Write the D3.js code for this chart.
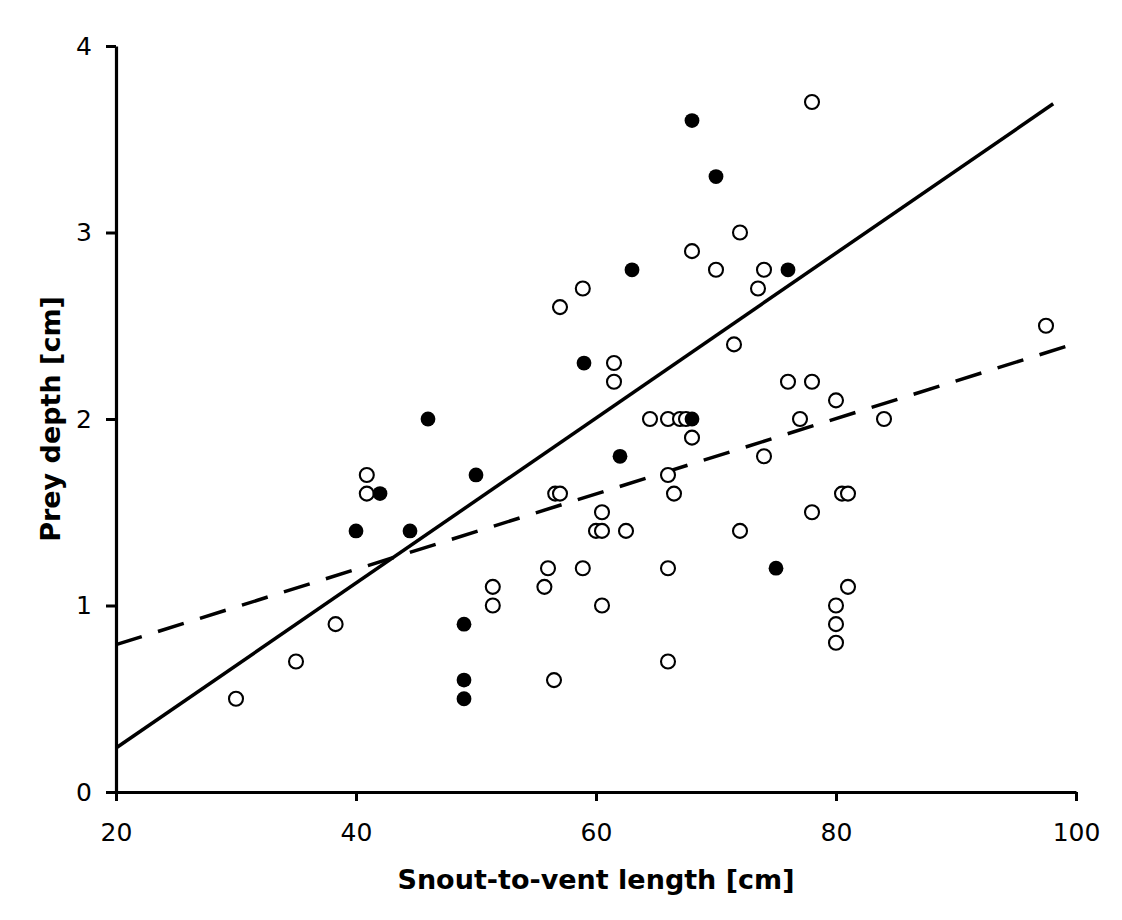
<!DOCTYPE html>
<html>
<head>
<meta charset="utf-8">
<script src="https://cdn.jsdelivr.net/npm/d3@7"></script>
<style>
  body { margin: 0; background: #fff; }
  svg text { font-family: "DejaVu Sans", Verdana, sans-serif; fill: #000; }
</style>
</head>
<body>
<svg id="chart" width="1122" height="920"></svg>
<script>
// open circles: snout-to-vent length (cm) and prey depth (cm)
const openSvl = [30, 35, 38.3, 40.9, 40.9, 51.4, 51.4, 55.7, 56, 56.5, 56.6, 57, 57, 58.9, 58.9,
  60, 60.5, 60.5, 60.5, 61.5, 61.5, 62.5, 64.5, 66, 66, 66, 66, 66.5, 67, 67.5, 68, 68,
  70, 71.5, 72, 72, 73.5, 74, 74, 76, 77, 78, 78, 78, 80, 80, 80, 80, 80.5, 81, 81, 84, 97.5];
const openDepth = [0.5, 0.7, 0.9, 1.7, 1.6, 1.1, 1.0, 1.1, 1.2, 0.6, 1.6, 1.6, 2.6, 2.7, 1.2,
  1.4, 1.4, 1.5, 1.0, 2.3, 2.2, 1.4, 2.0, 2.0, 1.7, 1.2, 0.7, 1.6, 2.0, 2.0, 2.9, 1.9,
  2.8, 2.4, 3.0, 1.4, 2.7, 2.8, 1.8, 2.2, 2.0, 3.7, 2.2, 1.5, 2.1, 1.0, 0.9, 0.8, 1.6, 1.6, 1.1, 2.0, 2.5];

// filled circles
const filledSvl = [40, 42, 44.5, 46, 49, 49, 49, 50, 59, 62, 63, 68, 68, 70, 75, 76];
const filledDepth = [1.4, 1.6, 1.4, 2.0, 0.9, 0.6, 0.5, 1.7, 2.3, 1.8, 2.8, 3.6, 2.0, 3.3, 1.2, 2.8];

// fitted lines, end points [svl, depth]
const solidFit = [[20, 0.236], [98.1, 3.69]];
const dashedFit = [[20, 0.79], [99.7, 2.40]];

const xTicks = [20, 40, 60, 80, 100];
const yTicks = [0, 1, 2, 3, 4];

const svg = d3.select("#chart");

const x = d3.scaleLinear().domain([20, 100]).range([116, 1076]);
const y = d3.scaleLinear().domain([0, 4]).range([792, 46]);

// x axis
const xAxis = svg.append("g")
  .attr("transform", "translate(0,792)")
  .call(d3.axisBottom(x).tickValues(xTicks).tickFormat(d3.format("d"))
    .tickSize(9).tickPadding(22).tickSizeOuter(0));
xAxis.select(".domain").attr("stroke", "#000").attr("stroke-width", 3.2);
xAxis.selectAll(".tick line").attr("stroke", "#000").attr("stroke-width", 3);
xAxis.selectAll(".tick text").attr("font-size", 25).attr("font-family", "DejaVu Sans").attr("fill", "#000");

// y axis
const yAxis = svg.append("g")
  .attr("transform", "translate(116,0)")
  .call(d3.axisLeft(y).tickValues(yTicks).tickFormat(d3.format("d"))
    .tickSize(10).tickPadding(14).tickSizeOuter(0));
yAxis.select(".domain").attr("stroke", "#000").attr("stroke-width", 3.2);
yAxis.selectAll(".tick line").attr("stroke", "#000").attr("stroke-width", 3);
yAxis.selectAll(".tick text").attr("font-size", 25).attr("font-family", "DejaVu Sans").attr("fill", "#000");

// axis titles
svg.append("text")
  .attr("x", (x.range()[0] + x.range()[1]) / 2)
  .attr("y", 889)
  .attr("text-anchor", "middle")
  .attr("font-size", 27)
  .attr("font-weight", "bold")
  .text("Snout-to-vent length [cm]");

svg.append("text")
  .attr("transform", "translate(60,419) rotate(-90)")
  .attr("text-anchor", "middle")
  .attr("font-size", 27)
  .attr("font-weight", "bold")
  .text("Prey depth [cm]");

// regression lines
const line = d3.line().x(d => x(d[0])).y(d => y(d[1]));

svg.append("path")
  .datum(dashedFit)
  .attr("d", line)
  .attr("fill", "none")
  .attr("stroke", "#000")
  .attr("stroke-width", 3.5)
  .attr("stroke-dasharray", "27,17");

svg.append("path")
  .datum(solidFit)
  .attr("d", line)
  .attr("fill", "none")
  .attr("stroke", "#000")
  .attr("stroke-width", 3.5);

// points
const openPts = openSvl.map((v, i) => [v, openDepth[i]]);
const filledPts = filledSvl.map((v, i) => [v, filledDepth[i]]);

svg.append("g").selectAll("circle")
  .data(openPts)
  .join("circle")
  .attr("cx", d => x(d[0]))
  .attr("cy", d => y(d[1]))
  .attr("r", 7)
  .attr("fill", "#fff")
  .attr("stroke", "#000")
  .attr("stroke-width", 2.1);

svg.append("g").selectAll("circle")
  .data(filledPts)
  .join("circle")
  .attr("cx", d => x(d[0]))
  .attr("cy", d => y(d[1]))
  .attr("r", 7.4)
  .attr("fill", "#000");
</script>
</body>
</html>
